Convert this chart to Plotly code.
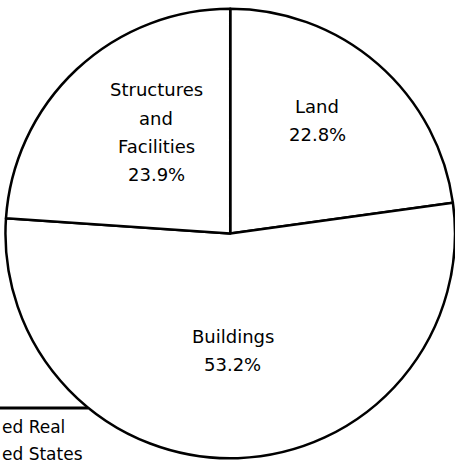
"""Pie chart: breakdown of real property value."""

import plotly.graph_objects as go

labels = ["Land", "Buildings", "Structures and Facilities"]
values = [22.8, 53.2, 23.9]
callout_lines = ["ed Real", "ed States"]

W, H = 455, 465
TOP, BOTTOM = 3, 1
FONT = "DejaVu Sans"


def px(x):
    return x / W


def py(y):
    # pixel row -> paper y inside the plot area
    return 1 - (y - TOP) / (H - TOP - BOTTOM)


fig = go.Figure()
fig.add_trace(
    go.Pie(
        labels=labels,
        values=values,
        sort=False,
        direction="clockwise",
        rotation=0,
        textinfo="none",
        showlegend=False,
        marker=dict(colors=["white"] * len(labels), line=dict(color="black", width=2.5)),
        domain=dict(x=[0.012, 1], y=[0, 1]),
        hovertemplate="%{label}: %{value}%<extra></extra>",
    )
)

# label blocks: centre x and first baseline (pixels)
label_pos = {
    "Land": (317, 112),
    "Buildings": (233, 342),
    "Structures and Facilities": (156, 96),
}
line_gap = 28
annotations = []
for label, value in zip(labels, values):
    cx, base = label_pos[label]
    lines = label.split(" ") if len(label) > 12 else [label]
    lines.append(f"{value}%")
    for i, text in enumerate(lines):
        annotations.append(
            dict(
                text=text,
                x=px(cx),
                y=py(base + i * line_gap - 6),
                xref="paper",
                yref="paper",
                xanchor="center",
                yanchor="middle",
                showarrow=False,
                font=dict(family=FONT, size=18, color="black"),
            )
        )

for i, text in enumerate(callout_lines):
    annotations.append(
        dict(
            text=text,
            x=0,
            y=py(433 + i * 27 - 6),
            xref="paper",
            yref="paper",
            xanchor="left",
            yanchor="middle",
            showarrow=False,
            font=dict(family=FONT, size=17, color="black"),
        )
    )

fig.add_shape(
    type="line",
    xref="paper",
    yref="paper",
    x0=0,
    x1=px(88),
    y0=py(408),
    y1=py(408),
    line=dict(color="black", width=3),
)

fig.update_layout(
    width=W,
    height=H,
    margin=dict(l=0, r=0, t=TOP, b=BOTTOM),
    paper_bgcolor="white",
    plot_bgcolor="white",
    annotations=annotations,
)

# drop the default page margin so the figure fills the window
fig.write_html(
    "out.html",
    config={"displayModeBar": False},
    post_script="document.body.style.margin='0';",
)
